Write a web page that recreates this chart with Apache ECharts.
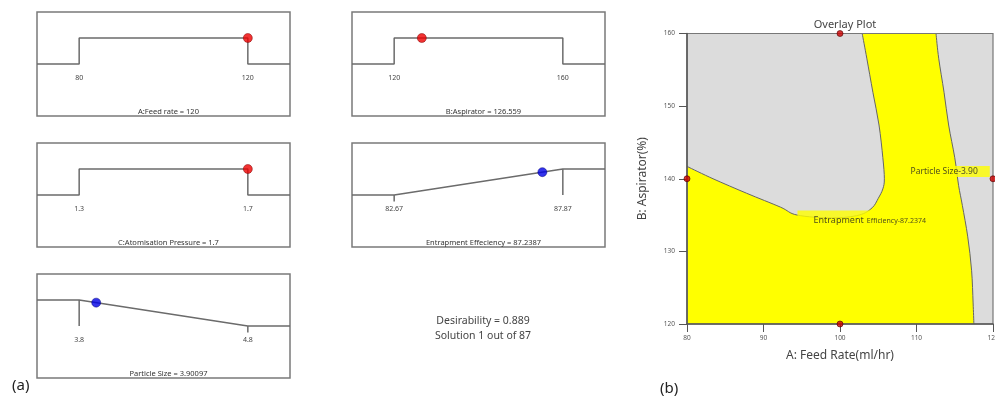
<!DOCTYPE html>
<html>
<head>
<meta charset="utf-8">
<script src="https://cdn.jsdelivr.net/npm/echarts@6/dist/echarts.min.js"></script>
<style>
html, body { margin: 0; padding: 0; background: #fff; }
#main { width: 995px; height: 396px; }
</style>
</head>
<body>
<div id="main"></div>
<script>
// (a) desirability ramps
const panelTitles = ['A:Feed rate = 120', 'B:Aspirator = 126.559', 'C:Atomisation Pressure = 1.7',
    'Entrapment Effeciency = 87.2387', 'Particle Size = 3.90097'];
const lowLimits = [80, 120, 1.3, 82.67, 3.8];
const highLimits = [120, 160, 1.7, 87.87, 4.8];
const limitLabels = [['80', '120'], ['120', '160'], ['1.3', '1.7'], ['82.67', '87.87'], ['3.8', '4.8']];
const solution = [120, 126.559, 1.7, 87.2387, 3.90097];
const goals = ['range', 'range', 'range', 'max', 'min'];
const dotColors = ['red', 'red', 'red', 'blue', 'blue'];

// (b) overlay plot
const entrapEdge = [[102.9, 160], [103.5, 156.6], [104.3, 151.9], [105.1, 147.4], [105.6, 142.9],
    [105.8, 140.0], [105.6, 138.6], [105.0, 137.3], [104.2, 136.0], [102.5, 135.0], [99, 134.6],
    [94.4, 135.0], [92.2, 136.1], [87.8, 138.0], [83.4, 140.0], [80, 141.7]];
const sizeEdge = [[112.55, 160], [112.9, 156.6], [113.6, 151.9], [114.2, 147.4], [115.0, 142.9],
    [115.5, 139.1], [116.0, 136.3], [116.7, 132.0], [117.2, 127.4], [117.4, 122.9], [117.5, 120]];
const designPoints = [[100, 160], [80, 140], [120, 140], [100, 120]];

// layout of the five small boxes
const boxes = [[37, 12], [352, 12], [37, 143], [352, 143], [37, 274]];
const boxW = 253, boxH = 104;

let grids = [], xAxes = [], yAxes = [], series = [], titles = [];

boxes.forEach((b, i) => {
    let lo = lowLimits[i], hi = highLimits[i], pad = (hi - lo) / 4;
    let xmin = lo - pad, xmax = hi + pad;
    grids.push({ left: b[0], top: b[1], width: boxW, height: boxH, show: true,
        borderColor: '#7a7a7a', borderWidth: 1.5, outerBoundsMode: 'none' });
    // axis sits on the zero-desirability line (middle of the box)
    xAxes.push({
        gridIndex: i, type: 'value', min: xmin, max: xmax, position: 'bottom', offset: -boxH / 2,
        axisLine: { show: false, onZero: false },
        axisTick: { show: false },
        splitLine: { show: false },
        axisLabel: {
            customValues: [lo, hi], fontSize: 7, color: '#444', margin: 10,
            fontFamily: 'Noto Sans',
            formatter: v => (Math.abs(v - lo) < 1e-9 ? limitLabels[i][0] : limitLabels[i][1])
        }
    });
    yAxes.push({ gridIndex: i, type: 'value', min: -2, max: 2, show: false });

    let shape, extra = [];
    if (goals[i] === 'range') {
        shape = [[xmin, 0], [lo, 0], [lo, 1], [hi, 1], [hi, 0], [xmax, 0]];
    } else if (goals[i] === 'max') {
        shape = [[xmin, 0], [lo, 0], [hi, 1], [xmax, 1]];
        extra = [[[hi, 1], [hi, 0]], [[lo, 0], [lo, -0.25]]];
    } else {
        shape = [[xmin, 1], [lo, 1], [hi, 0], [xmax, 0]];
        extra = [[[lo, 1], [lo, 0]], [[hi, 0], [hi, -0.25]]];
    }
    let lineStyle = { color: '#6b6b6b', width: 1.5 };
    series.push({ type: 'line', xAxisIndex: i, yAxisIndex: i, data: shape, symbol: 'none', lineStyle: lineStyle, silent: true });
    extra.forEach(seg => {
        series.push({ type: 'line', xAxisIndex: i, yAxisIndex: i, data: seg, symbol: 'none', lineStyle: lineStyle, silent: true });
    });

    let d = 1;
    if (goals[i] === 'max') d = (solution[i] - lo) / (hi - lo);
    if (goals[i] === 'min') d = (hi - solution[i]) / (hi - lo);
    let c = dotColors[i] === 'red' ? ['#ee0000', '#7a0000'] : ['#0000e6', '#00007a'];
    series.push({ type: 'scatter', xAxisIndex: i, yAxisIndex: i, data: [[solution[i], d]],
        symbolSize: 9, itemStyle: { color: c[0], borderColor: c[1], borderWidth: 0.6 }, z: 5, silent: true });

    titles.push({ text: panelTitles[i], left: b[0] + boxW / 2, top: b[1] + 91, textAlign: 'center',
        textStyle: { fontSize: 7.5, fontWeight: 'normal', color: '#333', fontFamily: 'Noto Sans' } });
});

titles.push({ text: 'Desirability = 0.889\nSolution 1 out of 87', left: 478, top: 309, textAlign: 'center',
    textStyle: { fontSize: 10.5, lineHeight: 15, fontWeight: 'normal', color: '#444', fontFamily: 'Noto Sans' } });
titles.push({ text: '(a)', left: 7, top: 373, textStyle: { fontSize: 15, fontWeight: 'normal', color: '#222', fontFamily: 'Noto Sans' } });
titles.push({ text: '(b)', left: 655, top: 376, textStyle: { fontSize: 15, fontWeight: 'normal', color: '#222', fontFamily: 'Noto Sans' } });
titles.push({ text: 'Overlay Plot', left: 840, top: 14, textAlign: 'center',
    textStyle: { fontSize: 11, fontWeight: 'normal', color: '#444', fontFamily: 'Noto Sans' } });

// overlay plot grid
const g = 5;
grids.push({ left: 687, top: 33.5, right: 2, bottom: 72, show: true, backgroundColor: '#dcdcdc',
    borderWidth: 0, outerBoundsMode: 'none' });
xAxes.push({
    gridIndex: g, type: 'value', min: 80, max: 120, interval: 10, z: 4,
    name: 'A: Feed Rate(ml/hr)', nameLocation: 'middle', nameGap: 26,
    nameTextStyle: { fontSize: 12, color: '#444', fontFamily: 'Noto Sans' },
    axisLine: { onZero: false, lineStyle: { color: '#555', width: 1.5 } },
    axisTick: { length: 8, lineStyle: { color: '#555' } },
    axisLabel: { fontSize: 6.5, color: '#555', margin: 11, fontFamily: 'Noto Sans' },
    splitLine: { show: false }
});
yAxes.push({
    gridIndex: g, type: 'value', min: 120, max: 160, interval: 10, z: 4,
    name: 'B: Aspirator(%)', nameLocation: 'middle', nameGap: 38,
    nameTextStyle: { fontSize: 12, color: '#444', fontFamily: 'Noto Sans' },
    axisLine: { onZero: false, lineStyle: { color: '#555', width: 1.5 } },
    axisTick: { length: 8, lineStyle: { color: '#555' } },
    axisLabel: { fontSize: 6.5, color: '#555', margin: 12, fontFamily: 'Noto Sans' },
    splitLine: { show: false }
});

// smooth curve through pixel points (Catmull-Rom as cubic bezier), starting at pts[0]
function curveThrough(pts) {
    let s = '';
    for (let k = 0; k < pts.length - 1; k++) {
        let p0 = pts[Math.max(k - 1, 0)], p1 = pts[k], p2 = pts[k + 1], p3 = pts[Math.min(k + 2, pts.length - 1)];
        let c1 = [p1[0] + (p2[0] - p0[0]) / 6, p1[1] + (p2[1] - p0[1]) / 6];
        let c2 = [p2[0] - (p3[0] - p1[0]) / 6, p2[1] - (p3[1] - p1[1]) / 6];
        s += ' C' + c1[0] + ',' + c1[1] + ' ' + c2[0] + ',' + c2[1] + ' ' + p2[0] + ',' + p2[1];
    }
    return s;
}

// yellow region: both goals met, bounded by the two contours
series.push({
    type: 'custom', xAxisIndex: g, yAxisIndex: g, data: [[100, 140]], z: 1, silent: true,
    renderItem: (params, api) => {
        let ent = entrapEdge.map(p => api.coord(p));
        let size = sizeEdge.map(p => api.coord(p));
        let sizeUp = size.slice().reverse();
        let bl = api.coord([80, 120]);
        let region = 'M' + bl[0] + ',' + bl[1] + ' L' + sizeUp[0][0] + ',' + sizeUp[0][1] + curveThrough(sizeUp) +
            ' L' + ent[0][0] + ',' + ent[0][1] + curveThrough(ent) + ' Z';
        let tl = api.coord([80, 160]), br = api.coord([120, 120]);
        return {
            type: 'group',
            children: [
                { type: 'path', shape: { pathData: region }, style: { fill: '#ffff00', stroke: null } },
                { type: 'path', shape: { pathData: 'M' + ent[0][0] + ',' + ent[0][1] + curveThrough(ent) },
                  style: { fill: null, stroke: '#666', lineWidth: 1 } },
                { type: 'path', shape: { pathData: 'M' + size[0][0] + ',' + size[0][1] + curveThrough(size) },
                  style: { fill: null, stroke: '#666', lineWidth: 1 } },
                { type: 'rect', shape: { x: tl[0], y: tl[1], width: br[0] - tl[0], height: br[1] - tl[1] },
                  style: { fill: null, stroke: '#777', lineWidth: 1.2 } }
            ]
        };
    }
});

series.push({
    type: 'scatter', xAxisIndex: g, yAxisIndex: g, data: [[108.9, 141.0]], symbolSize: 1, z: 6,
    itemStyle: { color: 'rgba(0,0,0,0)' }, silent: true,
    label: { show: true, position: 'right', distance: 0, formatter: 'Particle Size-3.90',
        backgroundColor: '#ffff00', padding: [1, 12, 1, 2], fontSize: 8.5, color: '#222', fontFamily: 'Noto Sans' }
});
series.push({
    type: 'scatter', xAxisIndex: g, yAxisIndex: g, data: [[94.38, 134.25]], symbolSize: 1, z: 6,
    itemStyle: { color: 'rgba(0,0,0,0)' }, silent: true,
    label: { show: true, position: 'right', distance: 0,
        formatter: '{a|Entrapment} {b|Efficiency-87.2374}',
        backgroundColor: '#ffff00', padding: [4, 6, 4, 16], color: '#222', fontFamily: 'Noto Sans',
        rich: { a: { fontSize: 9, color: '#222' }, b: { fontSize: 7, color: '#222' } } }
});
series.push({
    type: 'scatter', xAxisIndex: g, yAxisIndex: g, data: designPoints, symbolSize: 6, z: 7, clip: false,
    itemStyle: { color: '#cc0000', borderColor: '#550000', borderWidth: 0.8 }, silent: true
});

let chart = echarts.init(document.getElementById('main'), null, { renderer: 'canvas' });
chart.setOption({
    animation: false,
    backgroundColor: '#fff',
    title: titles,
    grid: grids,
    xAxis: xAxes,
    yAxis: yAxes,
    series: series
});
</script>
</body>
</html>
